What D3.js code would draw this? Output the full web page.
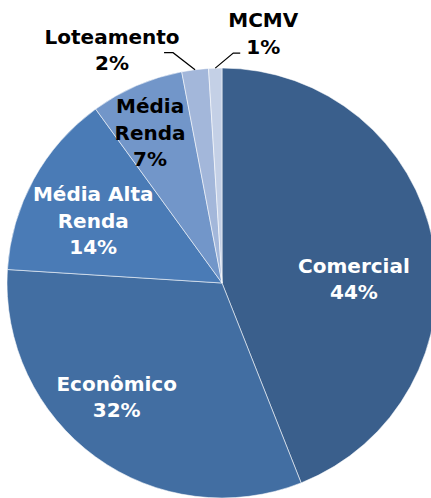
<!DOCTYPE html>
<html>
<head>
<meta charset="utf-8">
<script src="https://cdn.jsdelivr.net/npm/d3@7"></script>
<style>
  html, body { margin: 0; padding: 0; background: #ffffff; }
  svg { display: block; }
  text { font-family: "DejaVu Sans", Verdana, sans-serif; font-weight: bold; font-size: 20px; }
</style>
</head>
<body>
<svg id="chart" width="431" height="498"></svg>
<script>
// Segment shares (%), drawn clockwise from 12 o'clock
const categories = ["Comercial", "Econômico", "Média Alta Renda", "Média Renda", "Loteamento", "MCMV"];
const shares = [44, 32, 14, 7, 2, 1];
// Label lines for each segment (name lines, the share is appended)
const labelLines = [["Comercial"], ["Econômico"], ["Média Alta", "Renda"], ["Média", "Renda"], ["Loteamento"], ["MCMV"]];
const sliceColors = ["#3a5f8c", "#426ea2", "#4a7bb6", "#7296c9", "#a3b7da", "#c4d0e6"];
const labelColors = ["#ffffff", "#ffffff", "#ffffff", "#000000", "#000000", "#000000"];
// Labels outside the pie get a leader line
const outside = [false, false, false, false, true, true];

const width = 431, height = 498;
const cx = 222, cy = 283, R = 215;
const lineH = 26.5;

const svg = d3.select("#chart");
const g = svg.append("g").attr("transform", `translate(${cx},${cy})`);

const pie = d3.pie().sort(null).value(d => d.value);
const arcs = pie(categories.map((c, i) => ({ name: c, value: shares[i], i })));
const arc = d3.arc().innerRadius(0).outerRadius(R);
const labelArc = d3.arc().innerRadius(R * 0.62).outerRadius(R * 0.62);

g.selectAll("path.slice")
  .data(arcs)
  .join("path")
  .attr("class", "slice")
  .attr("d", arc)
  .attr("fill", d => sliceColors[d.data.i])
  .attr("stroke", "#ffffff")
  .attr("stroke-opacity", 0.55)
  .attr("stroke-width", 1);

// Nudges of the inside labels from the arc centroid
const insideNudge = [[1, 21], [-27, 6], [-12, 2], [-19, -28], [0, 0], [0, 0]];
// Leader line geometry for outside labels: elbow offset from the rim point, then horizontal run
const leader = { 4: { elbow: [-22, -17], run: -9, text: [-52, -9] }, 5: { elbow: [18, -15], run: 7, text: [23, -26] } };

const polar = (a, r) => [Math.sin(a) * r, -Math.cos(a) * r];

arcs.forEach(d => {
  const i = d.data.i;
  const lines = labelLines[i].concat([shares[i] + "%"]);
  let tx, firstBase;
  if (!outside[i]) {
    const [x, y] = labelArc.centroid(d);
    tx = x + insideNudge[i][0];
    const centerY = y + insideNudge[i][1];
    firstBase = centerY - (lines.length - 1) * lineH / 2 + 7;
  } else {
    const mid = (d.startAngle + d.endAngle) / 2;
    const p0 = polar(mid, R);
    const L = leader[i];
    const p1 = [p0[0] + L.elbow[0], p0[1] + L.elbow[1]];
    const p2 = [p1[0] + L.run, p1[1]];
    g.append("polyline")
      .attr("points", [p0, p1, p2].map(p => p.join(",")).join(" "))
      .attr("fill", "none")
      .attr("stroke", "#000000")
      .attr("stroke-width", 1.2);
    tx = p2[0] + L.text[0];
    firstBase = p2[1] + L.text[1];
  }
  const t = g.append("text")
    .attr("text-anchor", "middle")
    .attr("fill", labelColors[i]);
  lines.forEach((s, k) => {
    t.append("tspan").attr("x", tx).attr("y", firstBase + k * lineH).text(s);
  });
});
</script>
</body>
</html>
